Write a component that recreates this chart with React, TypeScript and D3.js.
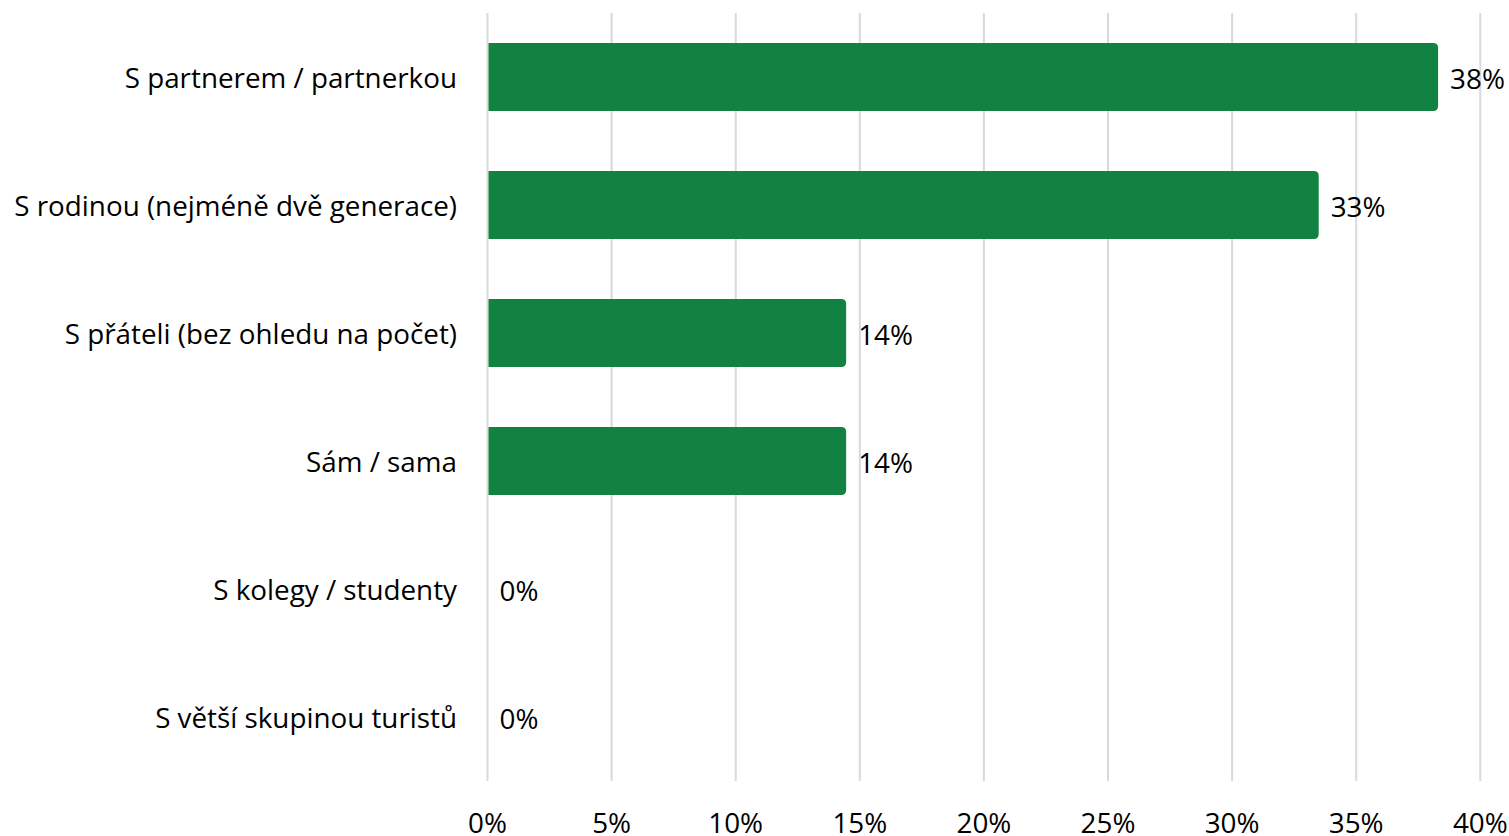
import React from "react";
import * as d3 from "d3";

const categories = [
  "S partnerem / partnerkou",
  "S rodinou (nejméně dvě generace)",
  "S přáteli (bez ohledu na počet)",
  "Sám / sama",
  "S kolegy / studenty",
  "S větší skupinou turistů",
];
const values = [38.3, 33.49, 14.45, 14.45, 0, 0];
const xTicks = [0, 5, 10, 15, 20, 25, 30, 35, 40];

const W = 1509;
const H = 836;
const FONT = "'Open Sans', 'Noto Sans', sans-serif";
const FS = 27.8;

function barPath(x0: number, x1: number, y0: number, h: number, r: number) {
  const w = x1 - x0;
  if (w <= 0) return "";
  const rr = Math.min(r, w, h / 2);
  return `M${x0},${y0}H${x1 - rr}Q${x1},${y0} ${x1},${y0 + rr}V${y0 + h - rr}Q${x1},${y0 + h} ${x1 - rr},${y0 + h}H${x0}Z`;
}

export default function App() {
  const x = d3.scaleLinear().domain([0, 40]).range([487.5, 1480.3]);
  const y = d3
    .scaleBand<string>()
    .domain(categories)
    .range([13, 781])
    .paddingInner(0.47)
    .paddingOuter(0.235);
  const bw = y.bandwidth();

  return (
    <svg
      width={W}
      height={H}
      style={{ position: "absolute", left: 0, top: 0, background: "#fff" }}
      fontFamily={FONT}
    >
      {xTicks.map((t) => (
        <g key={t}>
          <line x1={x(t)} x2={x(t)} y1={13} y2={781} stroke="#d9d9d9" strokeWidth={2} />
          <text x={x(t)} y={833} textAnchor="middle" fontSize={FS} fill="#000">
            {t}%
          </text>
        </g>
      ))}
      {categories.map((c, i) => {
        const yc = (y(c) as number) + bw / 2;
        return (
          <g key={c}>
            <path d={barPath(x(0) + 1, x(values[i]), y(c) as number, bw, 5)} fill="#118241" />
            <text x={457} y={yc} textAnchor="end" dominantBaseline="central" fontSize={FS} fill="#000">
              {c}
            </text>
            <text x={x(values[i]) + 12} y={yc + 1} dominantBaseline="central" fontSize={FS} fill="#000">
              {Math.round(values[i])}%
            </text>
          </g>
        );
      })}
    </svg>
  );
}
